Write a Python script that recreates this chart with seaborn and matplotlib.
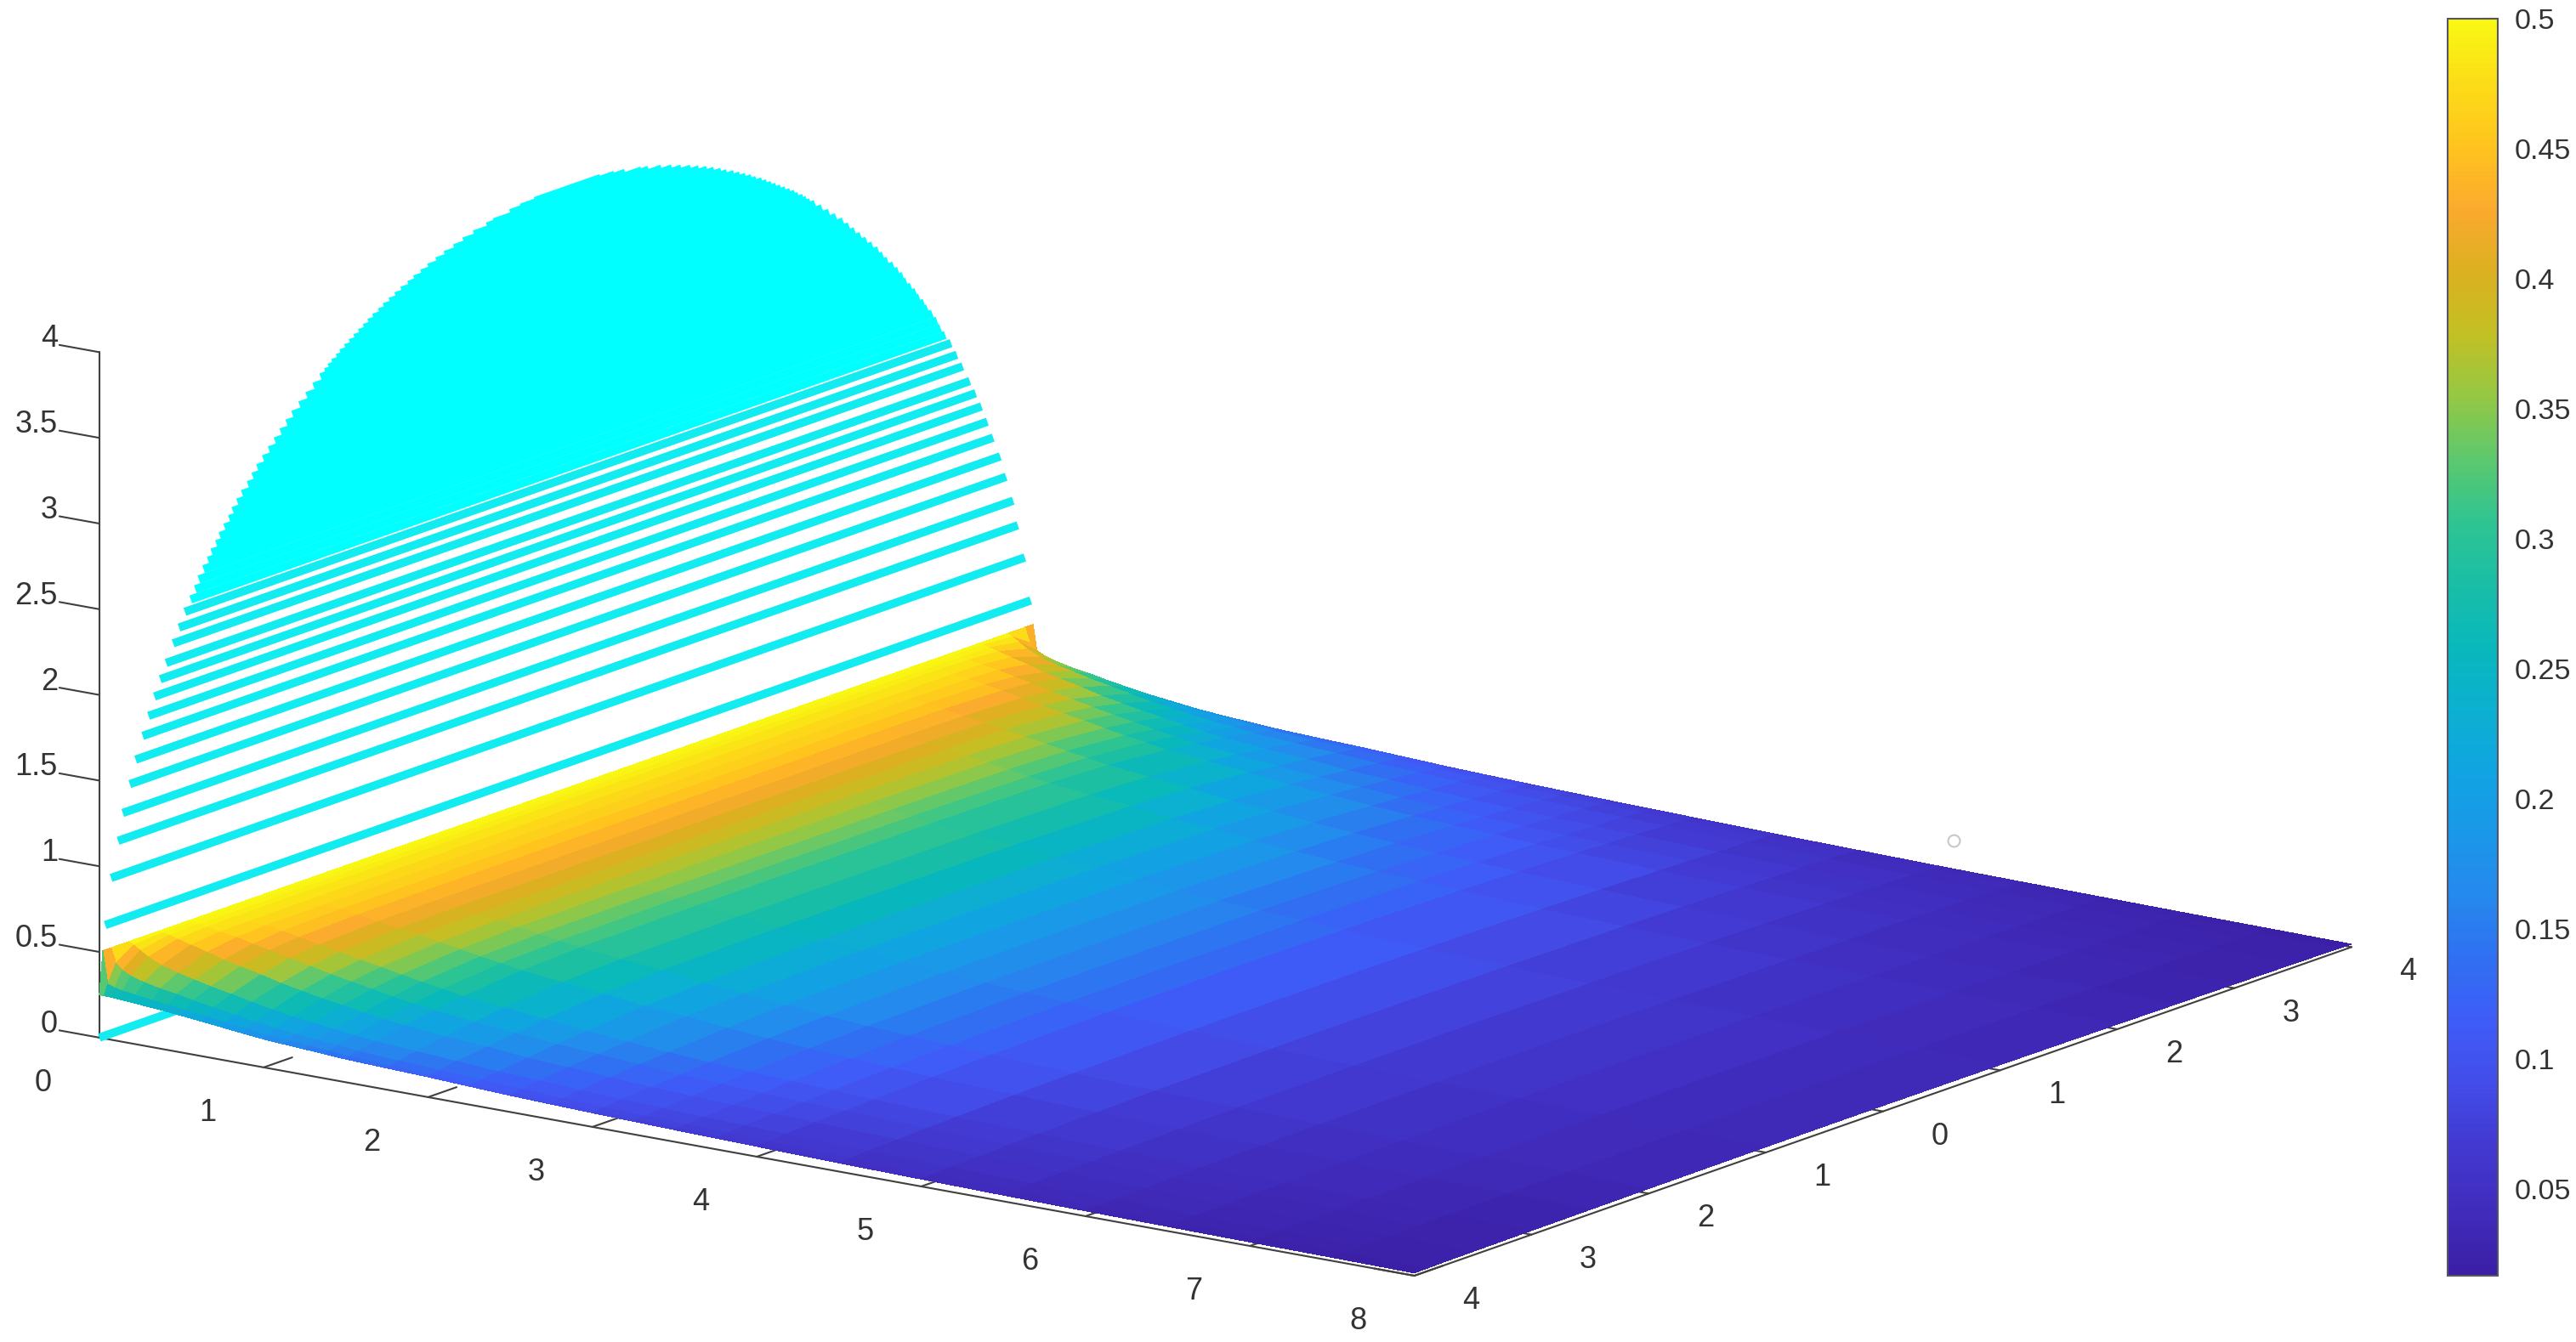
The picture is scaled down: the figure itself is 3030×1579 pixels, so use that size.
import matplotlib
matplotlib.use('Agg')
import matplotlib.pyplot as plt
from matplotlib.lines import Line2D
from matplotlib.cm import ScalarMappable
from matplotlib.colors import Normalize
import numpy as np
import seaborn as sns

sns.set_theme(style='white')
plt.rcParams['font.family'] = ['Liberation Sans', 'DejaVu Sans']

# values
x_vals = [0, .03, .07, .12, .2, .3, .4, .5, .625, .75, .875, 1, 1.125, 1.25, 1.375, 1.5, 1.75, 2, 2.25, 2.5, 2.75,
          3, 3.25, 3.5, 3.75, 4, 4.5, 5, 5.5, 6, 6.5, 7, 7.5, 8]
y_vals = [0, 1, 2, 2.5, 3, 3.25, 3.5, 3.75, 3.9, 3.97, 4]  # the other half mirrors

# one row per x, one column per y
u_vals = [
    [.5, .5, .5, .5, .5, .5, .5, .5, .5, .5, .25],
    [.497, .497, .497, .497, .497, .497, .497, .485, .415, .31, .25],
    [.492, .492, .492, .492, .492, .492, .489, .46, .379, .295, .248],
    [.489, .489, .489, .489, .489, .4845, .475, .43, .355, .285, .245],
    [.475, .475, .475, .475, .474, .471, .454, .395, .332, .275, .24],
    [.468, .468, .468, .468, .465, .457, .43, .368, .312, .262, .232],
    [.458, .458, .458, .458, .45, .435, .402, .346, .297, .25, .225],
    [.444, .444, .444, .442, .431, .415, .381, .323, .278, .238, .215],
    [.428, .428, .428, .425, .41, .39, .355, .301, .258, .224, .203],
    [.411, .411, .41, .406, .387, .365, .326, .276, .238, .208, .19],
    [.395, .395, .394, .388, .364, .34, .303, .253, .218, .194, .177],
    [.38, .38, .378, .369, .343, .318, .28, .234, .202, .18, .165],
    [.363, .363, .36, .349, .321, .297, .263, .219, .19, .17, .157],
    [.344, .344, .34, .329, .30, .275, .242, .204, .179, .161, .15],
    [.328, .328, .322, .311, .281, .256, .224, .19, .168, .152, .142],
    [.311, .311, .305, .29, .26, .237, .21, .177, .157, .143, .135],
    [.29, .289, .281, .266, .237, .215, .189, .162, .144, .133, .126],
    [.27, .269, .259, .242, .214, .192, .173, .148, .133, .123, .118],
    [.241, .24, .228, .213, .187, .17, .151, .131, .119, .111, .107],
    [.224, .222, .21, .196, .17, .156, .139, .122, .108, .101, .097],
    [.202, .20, .187, .172, .15, .139, .124, .109, .098, .091, .089],
    [.181, .178, .166, .154, .135, .123, .111, .099, .089, .084, .082],
    [.1645, .1625, .15, .138, .123, .1125, .101, .09, .0825, .078, .076],
    [.151, .149, .137, .125, .112, .102, .0925, .083, .076, .072, .07],
    [.138, .135, .124, .114, .101, .093, .0855, .077, .071, .067, .065],
    [.125, .122, .112, .102, .092, .086, .0785, .071, .065, .062, .06],
    [.102, .10, .092, .085, .076, .071, .065, .06, .054, .052, .05],
    [.086, .084, .077, .071, .065, .061, .0555, .051, .046, .044, .043],
    [.074, .071, .065, .06, .054, .051, .047, .043, .039, .037, .036],
    [.063, .061, .055, .05, .046, .043, .04, .037, .034, .032, .031],
    [.054, .052, .046, .043, .039, .037, .034, .031, .029, .028, .027],
    [.047, .045, .0405, .037, .0335, .031, .0295, .027, .025, .0235, .023],
    [.04, .038, .0345, .031, .029, .027, .025, .0236, .0218, .0204, .02],
    [.034, .0325, .029, .0264, .0241, .0228, .0215, .0197, .0176, .0169, .0165],
]

# cyan stripes in the x=0 plane: height and half width
stripe_z = [0, .645, .908, 1.11, 1.263, 1.417, 1.548, 1.672, 1.777, 1.878, 1.967, 2.05, 2.15, 2.23, 2.31]
stripe_w = [4, 3.95, 3.9, 3.84, 3.8, 3.74, 3.69, 3.63, 3.58, 3.53, 3.48, 3.43, 3.37, 3.32, 3.27]
solid_z = [2.37, 2.42, 2.47, 2.52, 2.56, 2.6, 2.64, 2.68, 2.72, 2.76, 2.8, 2.84, 2.88, 2.92, 2.96, 3, 3.04,
           3.08, 3.12, 3.16, 3.2, 3.24, 3.28, 3.32, 3.36, 3.4, 3.42, 3.44, 3.46, 3.48, 3.5, 3.52, 3.54, 3.56,
           3.58, 3.6, 3.62, 3.64, 3.66, 3.68, 3.7, 3.72, 3.74, 3.76, 3.78, 3.8, 3.82, 3.84, 3.86, 3.88, 3.9,
           3.92, 3.94, 3.95, 3.97, 3.98, 3.99]
solid_w = [3.22, 3.18, 3.15, 3.11, 3.07, 3.04, 3, 2.97, 2.93, 2.89, 2.86, 2.82, 2.78, 2.73, 2.69, 2.65, 2.6,
           2.55, 2.5, 2.45, 2.4, 2.35, 2.29, 2.23, 2.17, 2.11, 2.07, 2.04, 2.01, 1.97, 1.94, 1.9, 1.86, 1.82,
           1.78, 1.74, 1.7, 1.66, 1.61, 1.57, 1.52, 1.47, 1.42, 1.36, 1.31, 1.25, 1.19, 1.12, 1.05, .97, .89,
           .8, .69, .63, .49, .4, .28]

x_ticks = [0, 1, 2, 3, 4, 5, 6, 7, 8]
y_ticks = [-4, -3, -2, -1, 0, 1, 2, 3, 4]
y_labels = ['4', '3', '2', '1', '0', '1', '2', '3', '4']
z_ticks = [0, .5, 1, 1.5, 2, 2.5, 3, 3.5, 4]
z_labels = ['0', '0.5', '1', '1.5', '2', '2.5', '3', '3.5', '4']
cbar_ticks = [.05, .1, .15, .2, .25, .3, .35, .4, .45, .5]
cbar_labels = ['0.05', '0.1', '0.15', '0.2', '0.25', '0.3', '0.35', '0.4', '0.45', '0.5']

parula = sns.blend_palette(['#3b1fa5', '#402cbc', '#4238d0', '#434ce8', '#3f5cf8', '#306ff2', '#2688ee',
                            '#1a97e8', '#10a4e2', '#0cb0d0', '#08b8bc', '#1abea6', '#2fc492', '#5cc86e',
                            '#95c845', '#c2c024', '#dcb020', '#fbaa2e', '#ffc41e', '#fcdc18', '#f8f812'], as_cmap=True)
v_min, v_max = .0165, .5
text_col = '#333333'
line_col = '#404040'

fig = plt.figure(figsize=(30.3, 15.79), dpi=100)
side = 1.0
ax = fig.add_axes([.4622 - side / 2, .49 - side * 3030 / 1579 / 2, side, side * 3030 / 1579],
                  projection='3d', proj_type='ortho', computed_zorder=False)
ax.view_init(elev=14.6, azim=-54.3)
ax.set_box_aspect((985, 977, 431), zoom=.9)
ax.set_xlim(0, 8, view_margin=0)
ax.set_ylim(-4, 4, view_margin=0)
ax.set_zlim(0, 4, view_margin=0)

# stripes first so the surface covers them
for z, w in zip(stripe_z, stripe_w):
    ax.plot([0, 0], [-w, w], [z, z], color='#12ecf0', lw=7, solid_capstyle='butt', zorder=1)
for z, w in zip(solid_z, solid_w):
    ax.plot([0, 0], [-w, w], [z, z], color='#00ffff', lw=7, solid_capstyle='butt', zorder=1)

half = np.array(u_vals)
Z = np.hstack((half[:, :0:-1], half))
y_full = np.concatenate((-np.array(y_vals)[:0:-1], y_vals))
X, Y = np.meshgrid(x_vals, y_full, indexing='ij')
ax.plot_surface(X, Y, Z, cmap=parula, vmin=v_min, vmax=v_max, rstride=1, cstride=1,
                linewidth=0, antialiased=False, shade=False, zorder=2)

ax.grid(False)
for axis in (ax.xaxis, ax.yaxis, ax.zaxis):
    axis.pane.set_visible(False)
    axis.line.set_color(line_col)
    axis.line.set_linewidth(1.5)
    axis._axinfo['tick'].update(inward_factor=0, outward_factor=.38)
    axis._axinfo['tick']['linewidth'] = {True: 1.5, False: 1}
    axis._axinfo['tick']['color'] = line_col
ax.zaxis.set_ticks_position('lower')
# matlab draws the z ticks along x
ax.zaxis._get_tickdir = lambda position: 0

ax.set_xticks(x_ticks)
ax.set_yticks(y_ticks, y_labels)
ax.set_zticks(z_ticks, z_labels)
ax.tick_params(labelsize=26, labelcolor=text_col, color=line_col)
ax.tick_params(axis='x', pad=60)
ax.tick_params(axis='y', pad=41)
ax.tick_params(axis='z', pad=13)
for lab in ax.zaxis.get_ticklabels():
    lab.set_ha('right')
    lab.set_va('bottom')
for lab in ax.xaxis.get_ticklabels() + ax.yaxis.get_ticklabels():
    lab.set_va('bottom')

cax = fig.add_axes([2879 / 3030, 1 - 1501 / 1579, 59 / 3030, 1479 / 1579])
cbar = fig.colorbar(ScalarMappable(Normalize(v_min, v_max), parula), cax=cax, ticks=cbar_ticks)
cbar.ax.set_yticklabels(cbar_labels)
cbar.ax.tick_params(direction='in', length=12, width=1.5, labelsize=24.5, labelcolor=text_col, color='#303060', pad=14, right=True)
cbar.outline.set_edgecolor('#555566')
cbar.outline.set_linewidth(1.5)

fig.add_artist(Line2D([2298 / 3030], [1 - 989 / 1579], marker='o', ms=10, mfc='none', mec='#c8c8c8', mew=1.5,
                      transform=fig.transFigure))

fig.savefig('out.png', dpi=100)
